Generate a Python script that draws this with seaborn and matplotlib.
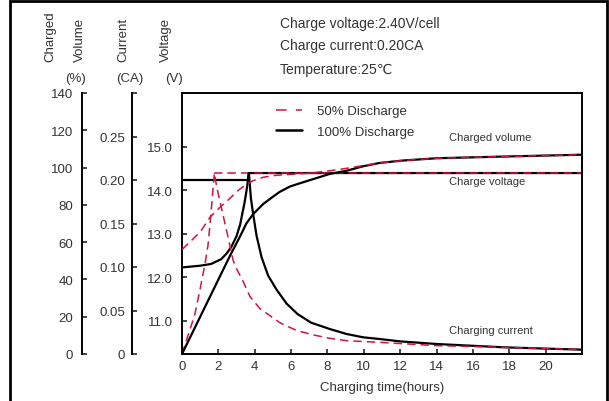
import matplotlib
matplotlib.use("Agg")
import matplotlib.pyplot as plt
import seaborn as sns
from matplotlib.lines import Line2D
from matplotlib.patches import Rectangle

# ---- data ----
hours_v100 = [0, 1.0, 1.6, 2.16, 2.45, 2.71, 3.0, 3.2, 3.44, 3.55, 3.68, 22]
volt_100 = [12.23, 12.27, 12.31, 12.42, 12.55, 12.70, 12.95, 13.22, 13.72, 14.0, 14.4, 14.4]

hours_v50 = [1.78, 22]
volt_50 = [14.4, 14.4]

hours_i100 = [0, 3.62, 3.68, 3.74, 3.79, 3.92, 4.10, 4.38, 4.74, 5.20, 5.75, 6.35,
              7.10, 8.13, 9.05, 9.96, 10.88, 12, 14, 17.67, 20, 22]
curr_100 = [0.20, 0.20, 0.208, 0.192, 0.179, 0.160, 0.136, 0.111, 0.090, 0.074,
            0.058, 0.046, 0.036, 0.0287, 0.023, 0.0192, 0.0172, 0.0145, 0.0115,
            0.0077, 0.0062, 0.005]

hours_i50 = [0, 0.7, 1.0, 1.26, 1.43, 1.54, 1.66, 1.78, 1.91, 2.18, 2.45, 2.82, 3.0,
             3.37, 3.74, 4.29, 4.84, 5.38, 6.30, 7.21, 8.13, 9.05, 10.88, 14, 17.67, 22]
curr_50 = [0, 0.045, 0.075, 0.103, 0.125, 0.149, 0.178, 0.208, 0.192, 0.167, 0.142,
           0.107, 0.098, 0.083, 0.066, 0.052, 0.044, 0.036, 0.027, 0.022, 0.018,
           0.0153, 0.0134, 0.0096, 0.0077, 0.005]

hours_q100 = [0, 2.64, 3.19, 3.55, 3.92, 4.47, 5.02, 5.38, 5.93, 6.30, 7.21, 8.13,
              9.05, 9.96, 10.88, 12.17, 14, 17.67, 22]
vol_100 = [0, 52.7, 63.0, 70.2, 75.1, 80.5, 84.5, 87.0, 89.8, 91.0, 93.8, 96.6,
           98.3, 100.7, 102.5, 103.8, 105.0, 105.9, 106.9]

hours_q50 = [0, 0.99, 1.54, 2.09, 2.64, 3.0, 3.19, 3.55, 3.92, 4.47, 5.02, 5.38,
             7.03, 8.13, 9.05, 10.88, 12.17, 14, 17.67, 22]
vol_50 = [56, 65.3, 73.3, 78.7, 83.5, 87.0, 88.5, 91.0, 93.0, 94.8, 95.7, 96.0,
          97.0, 98.3, 99.6, 102.5, 103.8, 105.0, 105.9, 106.9]

x_ticks = list(range(0, 21, 2))
volt_ticks = [11, 12, 13, 14, 15]
curr_ticks = [0, 0.05, 0.10, 0.15, 0.20, 0.25, 0.30]
curr_labels = ['0', '0.05', '0.10', '0.15', '0.20', '0.25', '']
vol_ticks = list(range(0, 141, 20))

sns.set_style("white")
plt.rcParams['font.family'] = ['Liberation Sans', 'DejaVu Sans']

RED = '#d0143f'
TXT = '#333333'
DASH = (5.5, 3.3)

fig = plt.figure(figsize=(6.09, 4.02), dpi=100)
ax = fig.add_axes([182 / 609, 1 - 355 / 402, 400 / 609, 261 / 402])
ax_cur = ax.twinx()
ax_vol = ax.twinx()

# voltage
sns.lineplot(x=hours_v100, y=volt_100, ax=ax, color='black', lw=1.6)
sns.lineplot(x=hours_v50, y=volt_50, ax=ax, color=RED, lw=1.1)
ax.lines[-1].set_dashes(DASH)
# current
sns.lineplot(x=hours_i100, y=curr_100, ax=ax_cur, color='black', lw=1.6)
sns.lineplot(x=hours_i50, y=curr_50, ax=ax_cur, color=RED, lw=1.1)
ax_cur.lines[-1].set_dashes(DASH)
# charged volume
sns.lineplot(x=hours_q100, y=vol_100, ax=ax_vol, color='black', lw=1.6)
sns.lineplot(x=hours_q50, y=vol_50, ax=ax_vol, color=RED, lw=1.1)
ax_vol.lines[-1].set_dashes(DASH)

ax.set_xlim(0, 22)
ax.set_ylim(10.24, 16.24)
ax_cur.set_ylim(0, 0.30)
ax_vol.set_ylim(0, 140)

ax.set_xticks(x_ticks)
ax.set_yticks(volt_ticks)
ax.set_yticklabels([f'{v:.1f}' for v in volt_ticks])
ax_cur.set_yticks(curr_ticks)
ax_cur.set_yticklabels(curr_labels)
ax_vol.set_yticks(vol_ticks)

for a in (ax, ax_cur, ax_vol):
    a.set_xlabel('')
    a.set_ylabel('')

for s in ax.spines.values():
    s.set_linewidth(1.4)
    s.set_color('black')
ax.tick_params(axis='x', direction='in', length=3.5, width=1.2, pad=4,
               labelsize=9.5, labelcolor=TXT, bottom=True)
ax.tick_params(axis='y', direction='in', length=3.5, width=1.2, pad=6.5,
               labelsize=9.5, labelcolor=TXT, left=True)

for a, off, pad in ((ax_cur, 36, 5), (ax_vol, 72, 6.5)):
    for side in ('right', 'top', 'bottom'):
        a.spines[side].set_visible(False)
    a.spines['left'].set_visible(True)
    a.spines['left'].set_position(('outward', off))
    a.spines['left'].set_linewidth(1.4)
    a.spines['left'].set_color('black')
    a.yaxis.set_ticks_position('left')
    a.yaxis.set_label_position('left')
    a.tick_params(axis='y', direction='in', length=3.5, width=1.2, pad=pad,
                  labelsize=9.5, labelcolor=TXT)

ax.set_xlabel('Charging time(hours)', fontsize=9.5, color=TXT, labelpad=7)

# legend
handles = [Line2D([], [], color=RED, lw=1.1, dashes=(7, 6)),
           Line2D([], [], color='black', lw=1.8)]
ax_vol.legend(handles, ['50% Discharge', '100% Discharge'], loc='upper left',
              bbox_to_anchor=(276 / 609, 1 - 106 / 402), bbox_transform=fig.transFigure,
              frameon=False, fontsize=9.5, handlelength=2.0, handletextpad=1.1,
              labelspacing=0.62, borderpad=0, borderaxespad=0, labelcolor=TXT)

# curve annotations
for txt, yf in (('Charged volume', 0.831), ('Charge voltage', 0.663),
                ('Charging current', 0.092)):
    ax_vol.text(0.6675, yf, txt, transform=ax.transAxes, fontsize=8, color=TXT,
                va='center', ha='left')

# axis titles
for txt, xp in (('Charged', 50), ('Volume', 80), ('Current', 123), ('Voltage', 166)):
    fig.text(xp / 609, 1 - 62 / 402, txt, rotation=90, ha='center', va='bottom',
             fontsize=9.5, color=TXT)
for txt, xp in (('(%)', 75), ('(CA)', 130), ('(V)', 174)):
    fig.text(xp / 609, 1 - 79 / 402, txt, ha='center', va='center',
             fontsize=9.5, color=TXT)

# header
for txt, yp in (('Charge voltage:2.40V/cell', 24), ('Charge current:0.20CA', 46),
                ('Temperature:25℃', 70)):
    fig.text(280 / 609, 1 - yp / 402, txt, ha='left', va='center',
             fontsize=10, color=TXT)

# outer frame
fig.patches.append(Rectangle((10.3 / 609, -0.1), (606.7 - 10.3) / 609, 1 - 2.3 / 402 + 0.1,
                             transform=fig.transFigure, fill=False, lw=2,
                             ec='black'))

fig.savefig('out.png', dpi=100)
